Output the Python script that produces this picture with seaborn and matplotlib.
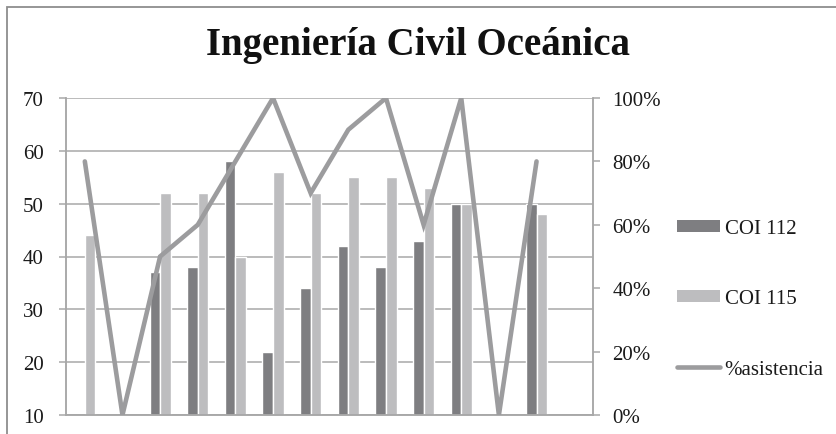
import numpy as np
import pandas as pd
import seaborn as sns
import matplotlib.pyplot as plt
from matplotlib.patches import Patch, Rectangle
from matplotlib.lines import Line2D
from matplotlib.ticker import PercentFormatter

# data (14 slots, last one empty)
semanas = [str(i) for i in range(1, 15)]
coi_112 = [np.nan, np.nan, 37, 38, 58, 22, 34, 42, 38, 43, 50, np.nan, 50, np.nan]
coi_115 = [44, np.nan, 52, 52, 40, 56, 52, 55, 55, 53, 50, np.nan, 48, np.nan]
asistencia = [0.80, 0.0, 0.50, 0.60, 0.80, 1.00, 0.70, 0.90, 1.00, 0.60, 1.00, 0.0, 0.80]
y_ticks = [10, 20, 30, 40, 50, 60, 70]

dark = '#7e7e81'
light = '#bdbdbf'
line_col = '#9c9c9e'
grid_col = '#a8a8a8'

df = pd.DataFrame({
    'Semana': semanas * 2,
    'Curso': ['COI 112'] * len(semanas) + ['COI 115'] * len(semanas),
    'Alumnos': coi_112 + coi_115,
})

sns.set_style('white')
plt.rcParams['font.family'] = ['Liberation Serif', 'DejaVu Serif']

fig = plt.figure(figsize=(8.37, 4.35), dpi=100)
ax = fig.add_axes([66 / 837, 1 - 416 / 435, (593 - 66) / 837, (416 - 99) / 435])

sns.barplot(data=df, x='Semana', y='Alumnos', hue='Curso', order=semanas,
            hue_order=['COI 112', 'COI 115'], palette=[dark, light],
            width=0.56, saturation=1, ax=ax, legend=False, errorbar=None)
ax.set_xlim(-0.5, len(semanas) - 0.5)
ax.set_ylim(10, 70)
ax.set_yticks(y_ticks)
ax.set_xticks([])
ax.set_xlabel('')
ax.set_ylabel('')
ax.yaxis.grid(True, color=grid_col, linewidth=1.1)
ax.set_axisbelow(True)
ax.tick_params(axis='y', length=5, width=1.1, color=grid_col, pad=11,
               labelsize=15, labelcolor='#1a1a1a', left=True)
for side in ['left', 'bottom', 'right']:
    ax.spines[side].set_color(grid_col)
    ax.spines[side].set_linewidth(1.1)
ax.spines['top'].set_visible(False)

# attendance line on the secondary axis
ax2 = ax.twinx()
ax2.plot(np.arange(len(asistencia)), asistencia, color=line_col,
         linewidth=3.3, solid_capstyle='round', solid_joinstyle='miter', zorder=5)
ax2.set_ylim(0, 1)
ax2.set_yticks([0, 0.2, 0.4, 0.6, 0.8, 1.0])
ax2.yaxis.set_major_formatter(PercentFormatter(1.0, decimals=0))
ax2.tick_params(axis='y', length=5, width=1.1, color=grid_col, pad=9,
                labelsize=15, labelcolor='#1a1a1a', right=True)
for side in ['left', 'bottom', 'right']:
    ax2.spines[side].set_color(grid_col)
    ax2.spines[side].set_linewidth(1.1)
ax2.spines['top'].set_visible(False)

fig.text(0.5, 1 - 46 / 435, 'Ingeniería Civil Oceánica', ha='center', va='center',
         fontsize=28, fontweight='bold', color='#111111')

handles = [Patch(facecolor=dark, edgecolor='none'),
           Patch(facecolor=light, edgecolor='none'),
           Line2D([0], [0], color=line_col, linewidth=3.3, solid_capstyle='round')]
fig.legend(handles, ['COI 112', 'COI 115', '%asistencia'], loc='center left',
           bbox_to_anchor=(658 / 837, 1 - 300 / 435), frameon=False,
           fontsize=15, labelspacing=2.45, handlelength=2.1, handleheight=0.5,
           handletextpad=0.2, labelcolor='#1a1a1a')

# outer chart frame (cut off at right and bottom in the reference)
fig.add_artist(Rectangle((7 / 837, -0.1), 1.2, 1.1 - 8 / 435,
                         transform=fig.transFigure, fill=False,
                         edgecolor='#8e8e8e', linewidth=1.3))

fig.savefig('out.png', dpi=100)
